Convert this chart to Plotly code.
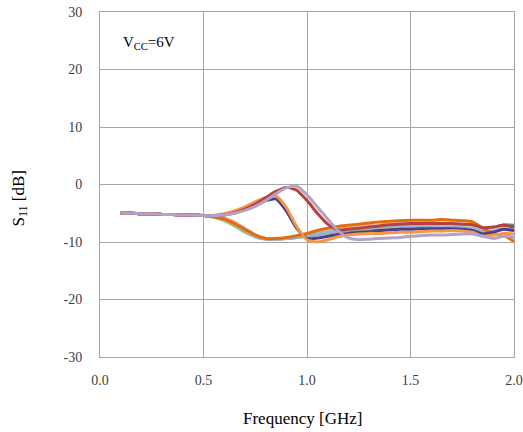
import plotly.graph_objects as go

freq = [0.10, 0.15, 0.20, 0.25, 0.30, 0.35, 0.40, 0.45, 0.50, 0.55,
        0.60, 0.65, 0.70, 0.75, 0.80, 0.85, 0.90, 0.95, 1.00, 1.05,
        1.10, 1.15, 1.20, 1.25, 1.30, 1.35, 1.40, 1.45, 1.50, 1.55,
        1.60, 1.65, 1.70, 1.75, 1.80, 1.85, 1.90, 1.95, 2.00]

start = [-5.0, -5.0, -5.1, -5.1, -5.2, -5.2, -5.3, -5.3, -5.4]

s_teal = start + [-5.6, -6.0, -6.8, -7.8, -8.8, -9.4, -9.5, -9.4, -9.2, -9.0, -8.7,
                  -8.4, -8.1, -7.9, -7.7, -7.5, -7.4, -7.3, -7.2, -7.2, -7.1,
                  -7.1, -7.1, -7.2, -7.2, -7.4, -8.0, -7.6, -7.0, -7.1]
s_green = start + [-5.7, -6.3, -7.2, -8.3, -9.1, -9.5, -9.5, -9.4, -9.2, -9.0, -8.7,
                   -8.4, -8.2, -8.0, -7.9, -7.8, -7.7, -7.6, -7.6, -7.5, -7.5,
                   -7.5, -7.5, -7.6, -7.6, -7.8, -8.4, -8.0, -7.6, -7.8]
s_lgreen = start + [-5.6, -6.1, -6.9, -8.0, -9.0, -9.5, -9.5, -9.3, -9.1, -8.8, -8.5,
                    -8.2, -7.9, -7.7, -7.6, -7.4, -7.3, -7.3, -7.2, -7.2, -7.2,
                    -7.2, -7.2, -7.3, -7.3, -7.5, -8.1, -7.9, -7.5, -7.6]
s_pink = start + [-5.5, -5.8, -6.5, -7.6, -8.7, -9.4, -9.5, -9.3, -9.0, -8.7, -8.4,
                  -8.0, -7.7, -7.5, -7.3, -7.1, -7.0, -6.9, -6.8, -6.8, -6.8,
                  -6.7, -6.7, -6.8, -6.9, -7.1, -7.6, -7.7, -7.4, -7.5]
s_lblue = start + [-5.6, -6.0, -6.9, -8.1, -9.1, -9.5, -9.5, -9.4, -9.2, -8.9, -8.6,
                   -8.3, -8.0, -7.8, -7.6, -7.5, -7.4, -7.4, -7.3, -7.3, -7.3,
                   -7.3, -7.4, -7.4, -7.5, -7.7, -8.2, -8.1, -7.8, -8.0]
s_dorange = start + [-5.6, -6.0, -6.8, -7.8, -8.8, -9.4, -9.4, -9.2, -8.9, -8.5, -8.0,
                     -7.6, -7.3, -7.1, -6.9, -6.7, -6.5, -6.4, -6.3, -6.2, -6.2,
                     -6.2, -6.1, -6.2, -6.3, -6.5, -7.6, -8.6, -8.9, -9.9]
s_navy = start + [-5.4, -5.2, -4.8, -4.2, -3.5, -2.8, -2.5, -4.6, -7.6, -9.4, -9.3,
                  -9.0, -8.7, -8.5, -8.3, -8.2, -8.0, -7.9, -7.8, -7.8, -7.7,
                  -7.7, -7.7, -7.7, -7.8, -8.0, -8.6, -8.3, -7.8, -8.0]
s_orange = start + [-5.4, -5.1, -4.6, -3.9, -3.0, -2.3, -2.0, -4.0, -7.3, -9.6, -10.0,
                    -9.6, -9.1, -8.8, -8.6, -8.5, -8.5, -8.4, -8.3, -8.3, -8.2,
                    -8.1, -8.1, -8.0, -8.1, -8.3, -9.0, -8.8, -8.5, -8.6]
s_red = start + [-5.4, -5.3, -4.9, -4.3, -3.4, -2.3, -1.2, -0.5, -1.0, -2.8, -5.0,
                 -6.9, -7.9, -7.8, -7.6, -7.4, -7.2, -7.0, -6.9, -6.8, -6.8,
                 -6.8, -6.8, -6.8, -6.9, -7.0, -7.5, -7.4, -7.1, -7.4]
s_lav = start + [-5.4, -5.3, -5.0, -4.5, -3.8, -2.8, -1.6, -0.6, -0.3, -1.8, -3.9,
                 -6.0, -8.0, -9.3, -9.6, -9.5, -9.4, -9.3, -9.2, -9.0, -8.9,
                 -8.8, -8.8, -8.7, -8.6, -8.6, -9.0, -9.4, -9.0, -9.2]

series = [
    ("teal", s_teal, "#31A5C0"),
    ("green", s_green, "#9BBB59"),
    ("light green", s_lgreen, "#C3D69B"),
    ("pink", s_pink, "#E6B9B8"),
    ("light blue", s_lblue, "#95B3D7"),
    ("dark orange", s_dorange, "#E46C0A"),
    ("navy", s_navy, "#4A3F8C"),
    ("orange", s_orange, "#F79646"),
    ("red", s_red, "#B8413E"),
    ("lavender", s_lav, "#B3A2C7"),
]

x_ticks = [0.0, 0.5, 1.0, 1.5, 2.0]
x_tick_text = ["0.0", "0.5", "1.0", "1.5", "2.0"]
y_ticks = [-30, -20, -10, 0, 10, 20, 30]
y_tick_text = ["-30", "-20", "-10", "0", "10", "20", "30"]

fig = go.Figure()
for name, vals, col in series:
    fig.add_trace(go.Scatter(x=freq, y=vals, mode="lines", name=name,
                             line=dict(color=col, width=3, shape="spline", smoothing=0.6)))

font = "Liberation Serif"
fig.update_layout(
    width=523, height=432,
    margin=dict(l=100, r=9, t=12, b=75, autoexpand=False),
    paper_bgcolor="white", plot_bgcolor="white",
    showlegend=False,
    font=dict(family=font, size=14, color="#404040"),
    xaxis=dict(range=[0, 2], tickvals=x_ticks, ticktext=x_tick_text,
               showgrid=True, gridcolor="#A6A6A6", gridwidth=1,
               showline=True, linecolor="#A6A6A6", linewidth=1, mirror=True,
               zeroline=False, ticks="", ticklabelstandoff=10, automargin=False,
               tickfont=dict(family=font, size=14, color="#404040")),
    yaxis=dict(range=[-30, 30], tickvals=y_ticks, ticktext=y_tick_text,
               showgrid=True, gridcolor="#A6A6A6", gridwidth=1,
               showline=True, linecolor="#A6A6A6", linewidth=1, mirror=True,
               zeroline=False, ticks="", ticklabelstandoff=14, automargin=False,
               tickfont=dict(family=font, size=14, color="#404040")),
    annotations=[
        dict(x=0.1, y=24.6, xref="x", yref="y", xanchor="left", yanchor="middle",
             text="V<sub>CC</sub>=6V", showarrow=False,
             font=dict(family=font, size=15, color="#000000")),
        dict(x=-0.193, y=0.46, xref="paper", yref="paper", textangle=-90,
             xanchor="center", yanchor="middle",
             text="S<sub>11</sub> [dB]", showarrow=False,
             font=dict(family=font, size=17, color="#000000")),
        dict(x=0.49, y=-0.178, xref="paper", yref="paper",
             xanchor="center", yanchor="middle",
             text="Frequency [GHz]", showarrow=False,
             font=dict(family=font, size=17, color="#000000")),
    ],
)

fig.write_html("out.html", config={"displayModeBar": False},
               post_script="document.body.style.margin='0';document.body.style.overflow='hidden';")
